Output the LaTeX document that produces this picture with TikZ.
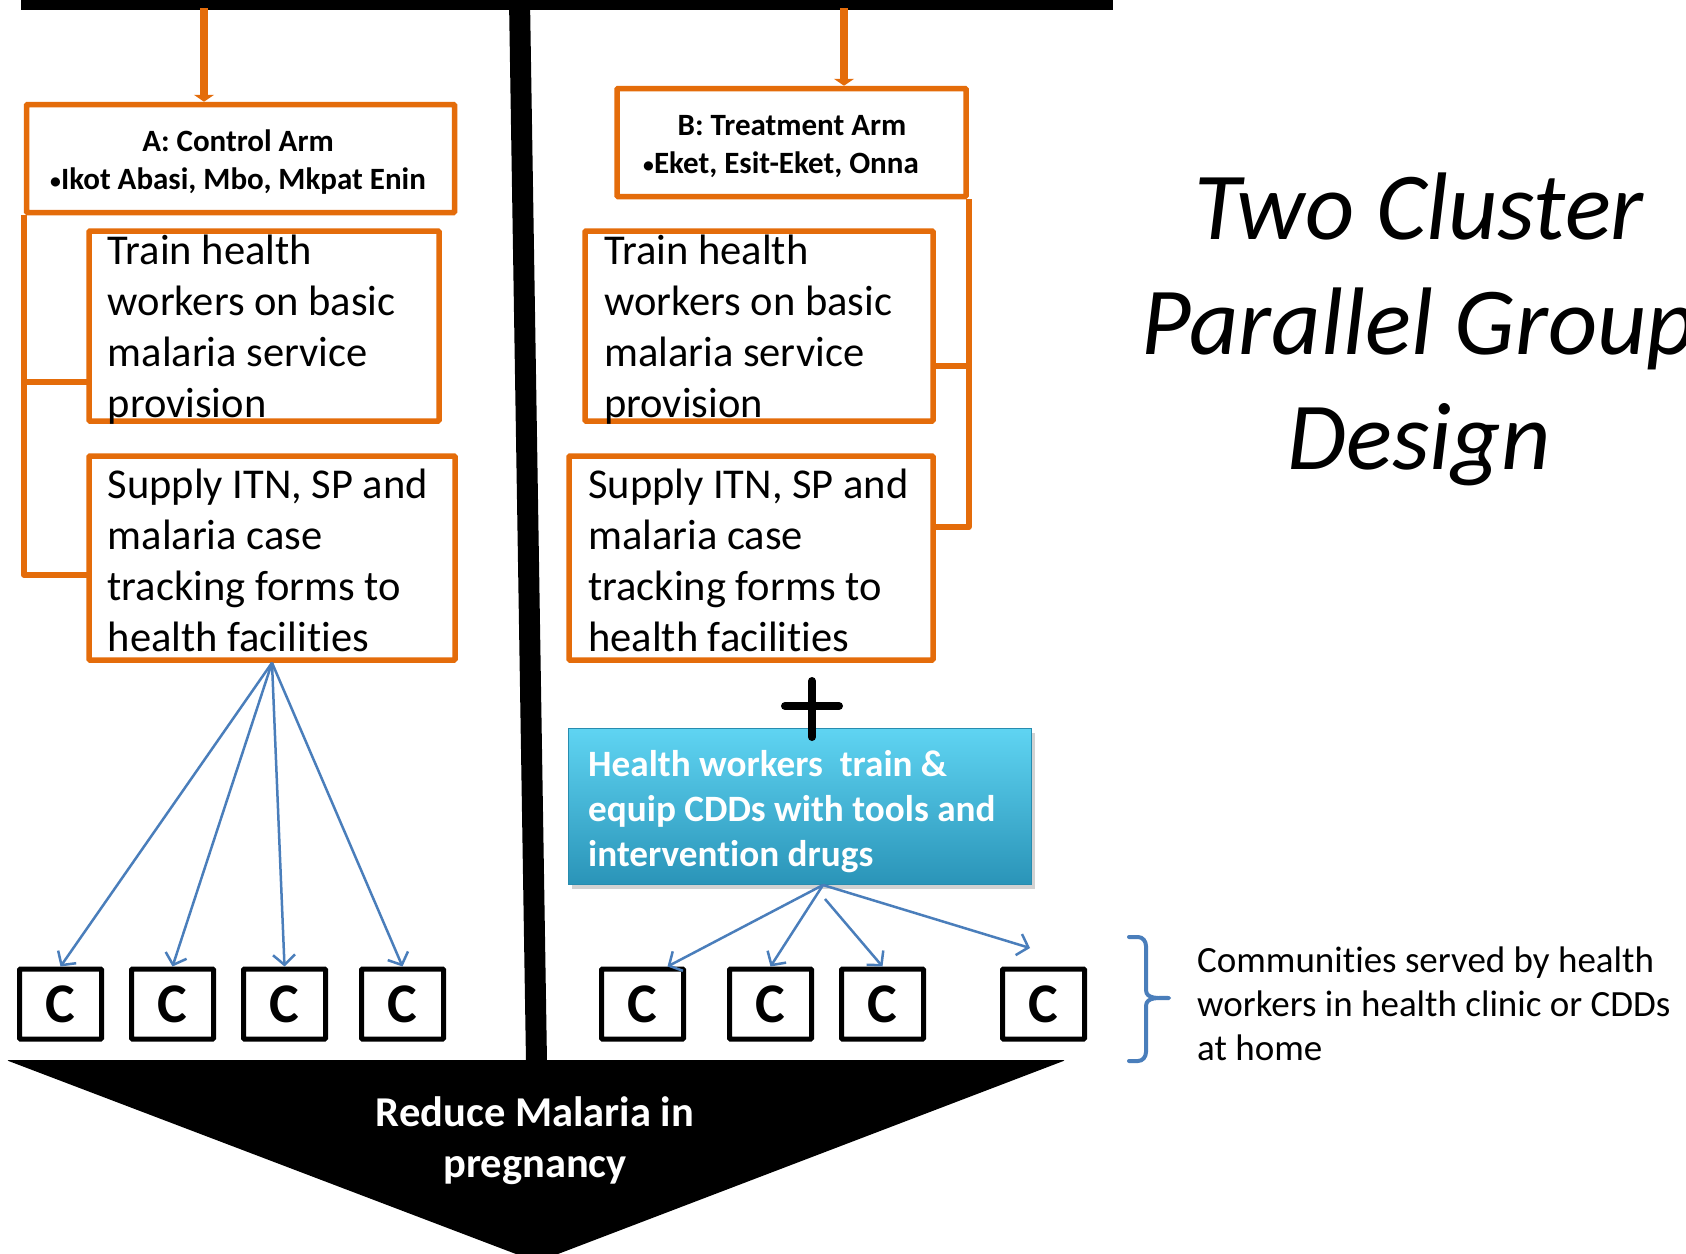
\documentclass[tikz,border=0pt]{standalone}
\usepackage{fontspec}
\setmainfont{Carlito}[Ligatures={NoCommon}]
\usetikzlibrary{arrows.meta,calc,shadows}
\definecolor{org}{RGB}{228,108,10}
\definecolor{lblue}{RGB}{74,126,187}
\definecolor{cyantop}{RGB}{95,212,242}
\definecolor{cyanbot}{RGB}{42,148,184}
\definecolor{cyanedge}{RGB}{40,140,175}
\newcommand{\smbul}{\raisebox{1pt}{\scalebox{0.7}{\textbullet}}}
\begin{document}
\begin{tikzpicture}[x=1pt,y=-1pt,
  obox/.style={draw=org, line width=5.5pt, rounded corners=1pt, fill=white, inner sep=0pt},
  cbox/.style={draw=black, line width=5pt, rounded corners=1pt, fill=white, minimum width=82pt, minimum height=70pt, inner sep=0pt, font=\fontsize{56}{60}\selectfont\bfseries},
  oline/.style={draw=org, line width=5.5pt, line join=round},
  oarrow/.style={draw=org, line width=8pt, -{Triangle[width=20pt,length=7pt]}},
  barrow/.style={draw=lblue, line width=2.5pt, -{Straight Barb[length=10pt,width=22pt]}},
  txt/.style={anchor=base west, inner sep=0pt},
  ctxt/.style={anchor=base, inner sep=0pt},
  cyanbox/.style={draw=cyanedge, line width=1pt, top color=cyantop, bottom color=cyanbot, inner sep=0pt,
     drop shadow={opacity=0.35, shadow xshift=3pt, shadow yshift=-4pt}},
  brace/.style={draw=lblue, line width=4pt, line cap=round, line join=round}
]
\useasboundingbox (0,0) rectangle (1686,1253);
\fill[white] (0,0) rectangle (1686,1253);

% top bar and divider
\fill[black] (21,-5) rectangle (1113,9.5);
\fill[black] (509,0) -- (530,0) -- (547,1062) -- (526,1062) -- cycle;

% bottom triangle
\fill[black, rounded corners=3pt] (6,1060) -- (1066,1060) -- (537,1262) -- cycle;
\node[ctxt, text=white] (goal) at (535,1126) {\parbox[t]{450pt}{\centering\fontsize{42.5}{51}\selectfont\bfseries Reduce Malaria in\\pregnancy}};

% arm boxes
\node[obox, minimum width=428pt, minimum height=108pt] (boxA) at (240.5,158.5) {};
\node[ctxt] (atext) at (238,151.6) {\parbox[t]{420pt}{\centering\fontsize{31}{37.6}\selectfont\bfseries A: Control Arm\\\smbul Ikot Abasi, Mbo, Mkpat Enin}};
\node[obox, minimum width=349pt, minimum height=108pt] (boxB) at (791.5,142.5) {};
\node[ctxt] (btext) at (781,135.5) {\parbox[t]{340pt}{\centering\fontsize{31}{37.6}\selectfont\bfseries \hspace*{22pt}B: Treatment Arm\\\smbul Eket, Esit-Eket, Onna}};

% arrows from top bar
\coordinate (tA) at (204,8);
\coordinate (tB) at (844,8);
\draw[oarrow] (tA) -- (tA |- boxA.north);
\draw[oarrow] (tB) -- (tB |- boxB.north);

% left arm activity boxes
\node[obox, minimum width=350pt, minimum height=190pt] (ltrain) at (264,326) {};
\node[txt] (ltraint) at (107.5,264) {\parbox[t]{400pt}{\fontsize{42.5}{51.3}\selectfont Train health\\workers on basic\\malaria service\\provision}};
\node[obox, minimum width=366pt, minimum height=204pt] (lsup) at (272,558) {};
\node[txt] (lsupt) at (107.5,498) {\parbox[t]{400pt}{\fontsize{42.5}{51.3}\selectfont Supply ITN, SP and\\malaria case\\tracking forms to\\health facilities}};

% right arm activity boxes
\node[obox, minimum width=348pt, minimum height=190pt] (rtrain) at (759,326) {};
\node[txt] (rtraint) at (604,264) {\parbox[t]{400pt}{\fontsize{42.5}{51.3}\selectfont Train health\\workers on basic\\malaria service\\provision}};
\node[obox, minimum width=364pt, minimum height=204pt] (rsup) at (751,558) {};
\node[txt] (rsupt) at (588,498) {\parbox[t]{400pt}{\fontsize{42.5}{51.3}\selectfont Supply ITN, SP and\\malaria case\\tracking forms to\\health facilities}};

% orange brackets
\coordinate (lj1) at (87,382);
\coordinate (lj2) at (87,575);
\draw[oline] (boxA.south west) |- (lj2);
\draw[oline] (boxA.south west |- lj1) -- (lj1);
\coordinate (rj1) at (935,366);
\coordinate (rj2) at (935,527);
\draw[oline] (boxB.south east) |- (rj2);
\draw[oline] (boxB.south east |- rj1) -- (rj1);

% cyan box
\node[cyanbox, minimum width=463pt, minimum height=156pt] (cyan) at (800,806.5) {};
\node[txt, text=white] (cyant) at (588,776) {\parbox[t]{460pt}{\fontsize{37.2}{45}\selectfont\bfseries Health workers\ \ train \&\\equip CDDs with tools and\\intervention drugs}};

% plus sign
\draw[line width=8pt, line cap=round] (785,706) -- (839,706);
\draw[line width=8pt, line cap=round] (812,681) -- (812,737);

% community boxes
\foreach \n/\x in {1/60.5,2/172.5,3/284.5,4/402.5,5/642.5,6/770.5,7/882.5,8/1043.5}
  \node[cbox] (c\n) at (\x,1004) {C};

% blue arrows, control arm
\draw[barrow] (lsup.south) -- (c1.north);
\draw[barrow] (lsup.south) -- (c2.north);
\draw[barrow] (lsup.south) -- (c3.north);
\draw[barrow] (lsup.south) -- (c4.north);

% blue arrows, treatment arm
\coordinate (corig) at ($(cyan.south)+(23,0)$);
\coordinate (c8tip) at (1030,948);
\draw[barrow] (corig) -- ($(c5.north)+(25,0)$);
\draw[barrow] (corig) -- (c6.north);
\draw[barrow] ($(corig)+(2,14)$) -- (c7.north);
\draw[barrow] (corig) -- (c8tip);

% brace and caption
\draw[brace] (1129,937) -- (1138,937) to[out=0,in=90] (1146,946) -- (1146,990)
  to[out=-90,in=180] (1169,998) to[out=180,in=90] (1146,1006) -- (1146,1052)
  to[out=-90,in=0] (1138,1061) -- (1129,1061);
\node[txt] (comm) at (1197,972) {\parbox[t]{520pt}{\fontsize{37}{44}\selectfont Communities served by health\\workers in health clinic or CDDs\\at home}};

% title
\node[ctxt] (title) at (1419,239) {\parbox[t]{700pt}{\centering\fontsize{96}{115}\selectfont\itshape Two Cluster\\Parallel Group\\Design}};
\end{tikzpicture}
\end{document}
